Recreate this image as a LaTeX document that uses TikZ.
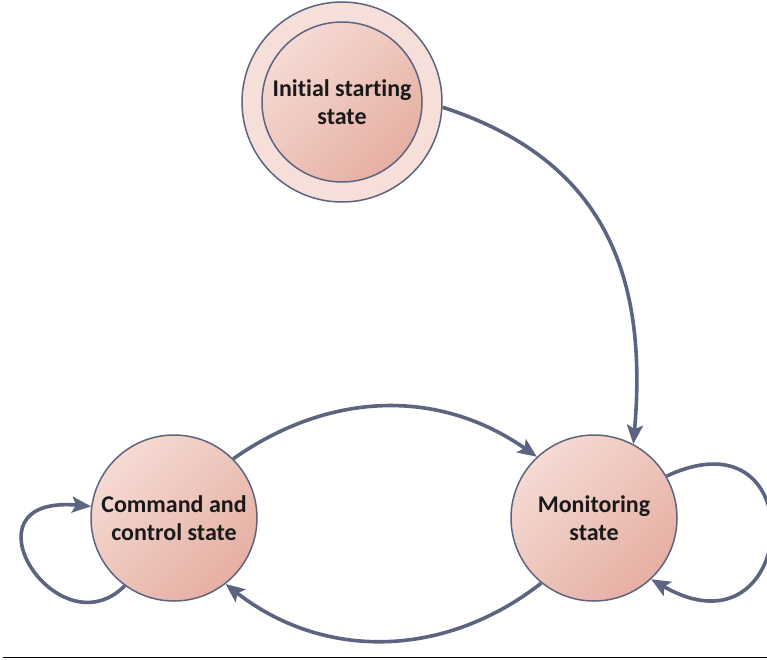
\documentclass[tikz,border=0pt]{standalone}
\usepackage{fontspec}
\setmainfont{Carlito}[Ligatures=NoCommon]
\usetikzlibrary{arrows.meta,shadings}

\definecolor{edgec}{HTML}{5C6480}
\definecolor{fillA}{HTML}{F5DAD3}
\definecolor{fillB}{HTML}{E6AFA3}
\definecolor{ringc}{HTML}{F6DFD8}

\begin{document}
\begin{tikzpicture}[x=1pt,y=1pt,
  statebox/.style={circle, draw=edgec, line width=1.5pt, minimum size=166pt,
    inner sep=0pt, align=center, text=black!90,
    font=\fontsize{24}{28}\selectfont\bfseries,
    top color=fillA, bottom color=fillB, shading angle=45},
  ringbox/.style={circle, draw=edgec, line width=1.5pt, minimum size=200pt,
    inner sep=0pt, fill=ringc},
  arrowline/.style={draw=edgec, line width=3.6pt,
    -{Stealth[length=19pt,width=16pt,inset=4pt]}}]
\useasboundingbox (0,0) rectangle (767,-659);

\node[ringbox] (init) at (342,-102) {};
\node[statebox, minimum size=160pt] (initin) at (342,-102) {Initial starting\\state};
\node[statebox] (cmd) at (174,-518) {Command and\\control state};
\node[statebox] (mon) at (594,-518) {Monitoring\\state};

\draw[arrowline] (init.-3) to[out=-18,in=85,out distance=170pt,in distance=170pt] (mon.62);
\draw[arrowline] (cmd.45) to[out=35,in=145] (mon.133);
\draw[arrowline] (mon.-129) to[out=-142,in=-38] (cmd.-52);
\draw[arrowline] (cmd.-126) to[out=-135,in=175,out distance=95pt,in distance=135pt] (cmd.172);
\draw[arrowline] (mon.30) to[out=25,in=-30,out distance=165pt,in distance=170pt] (mon.-47);

\draw[line width=1.5pt, black] (3,-657.5) -- (767,-657.5);
\end{tikzpicture}
\end{document}
